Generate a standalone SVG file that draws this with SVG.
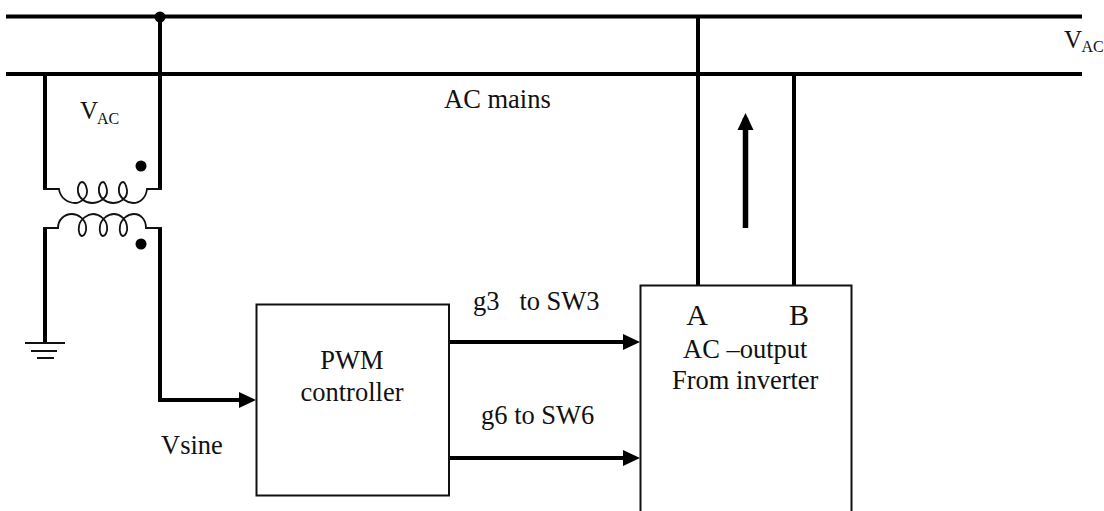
<svg xmlns="http://www.w3.org/2000/svg" width="1104" height="511" viewBox="0 0 1104 511">
<style>
text{font-family:"Liberation Serif","Times New Roman",serif;fill:#111}
.t{font-size:26.500px}
.l{font-size:30px}
.v{font-size:25px}
.s{font-size:16px}
.w{fill:none;stroke:#000;stroke-width:4}
.b{fill:#fff;stroke:#111;stroke-width:2}
.c{fill:none;stroke:#111;stroke-width:1.800}
.g{fill:none;stroke:#111;stroke-width:2}
</style>
<defs>
<marker id="a" markerUnits="userSpaceOnUse" markerWidth="18" markerHeight="18" refX="12" refY="9" orient="auto"><path d="M0 1L17 9L0 17Z" fill="#000"/></marker>
</defs>
<g id="connectors">
<path class="w" d="M6 16.500H1082M6 74H1082"/>
<path class="w" d="M160 16.500V189M45 74V189"/>
<path class="w" d="M698 16.500V285M794 74V285"/>
<path class="w" d="M45 228V343"/>
<path class="w" d="M160 228V400H251" marker-end="url(#a)"/>
<path class="w" d="M449 342H635" marker-end="url(#a)"/>
<path class="w" d="M449 458H635" marker-end="url(#a)"/>
<path class="w" d="M745.500 228V118" style="stroke-width:5.500" marker-end="url(#a)"/>
<circle cx="160" cy="17" r="5.500"/>
</g>
<g id="transformer">
<path class="c" d="M43 189H59C60 198 68 203 75 203C81 203 88 197 87 190C86 185 84 182 82 182C80 182 77 186 78 192C79 198 85 203 92 203C99 203 108 198 107 190C106 185 105 182 103 182C101 182 98 186 99 192C100 198 106 203 113 203C120 203 128 198 127 190C126 185 125 182 123 182C121 182 118 186 119 192C120 198 127 203 133 203C140 203 146 198 147 189H162"/>
<path class="c" d="M43 228H58C58 220 64 214 72 214C78 214 85 219 86 226C87 232 84 236 82 236C80 236 78 232 79 226C80 219 88 214 93 214C99 214 106 219 107 226C108 232 105 236 103 236C101 236 99 232 100 226C101 219 108 214 114 214C120 214 126 219 127 226C128 232 125 236 123 236C121 236 119 232 120 226C121 219 128 214 134 214C141 214 146 220 146 228H162"/>
<circle cx="141" cy="166" r="5.500"/>
<circle cx="141" cy="244" r="5.500"/>
</g>
<g id="ground">
<path class="g" d="M25 343H65M31 351H57M37 358H54"/>
</g>
<g id="pwm">
<rect class="b" x="256.500" y="304.500" width="192.500" height="191"/>
<text class="t" x="352" y="369" text-anchor="middle">PWM</text>
<text class="t" x="352" y="401" text-anchor="middle">controller</text>
</g>
<g id="inverter">
<path class="b" d="M640.500 511V285.500H851.500V511"/>
<text class="l" x="697" y="325" text-anchor="middle">A</text>
<text class="l" x="799" y="325" text-anchor="middle">B</text>
<text class="t" x="683" y="357.500">AC –output</text>
<text class="t" x="672" y="389">From inverter</text>
</g>
<g id="labels">
<text class="v" x="80" y="119">V</text><text class="s" x="97" y="123.500">AC</text>
<text class="v" x="1064" y="48">V</text><text class="s" x="1081.500" y="52">AC</text>
<text class="t" x="444" y="107.500">AC mains</text>
<text class="t" x="473" y="310" xml:space="preserve">g3   to SW3</text>
<text class="t" x="481" y="424">g6 to SW6</text>
<text class="t" x="161" y="454">Vsine</text>
</g>
</svg>
